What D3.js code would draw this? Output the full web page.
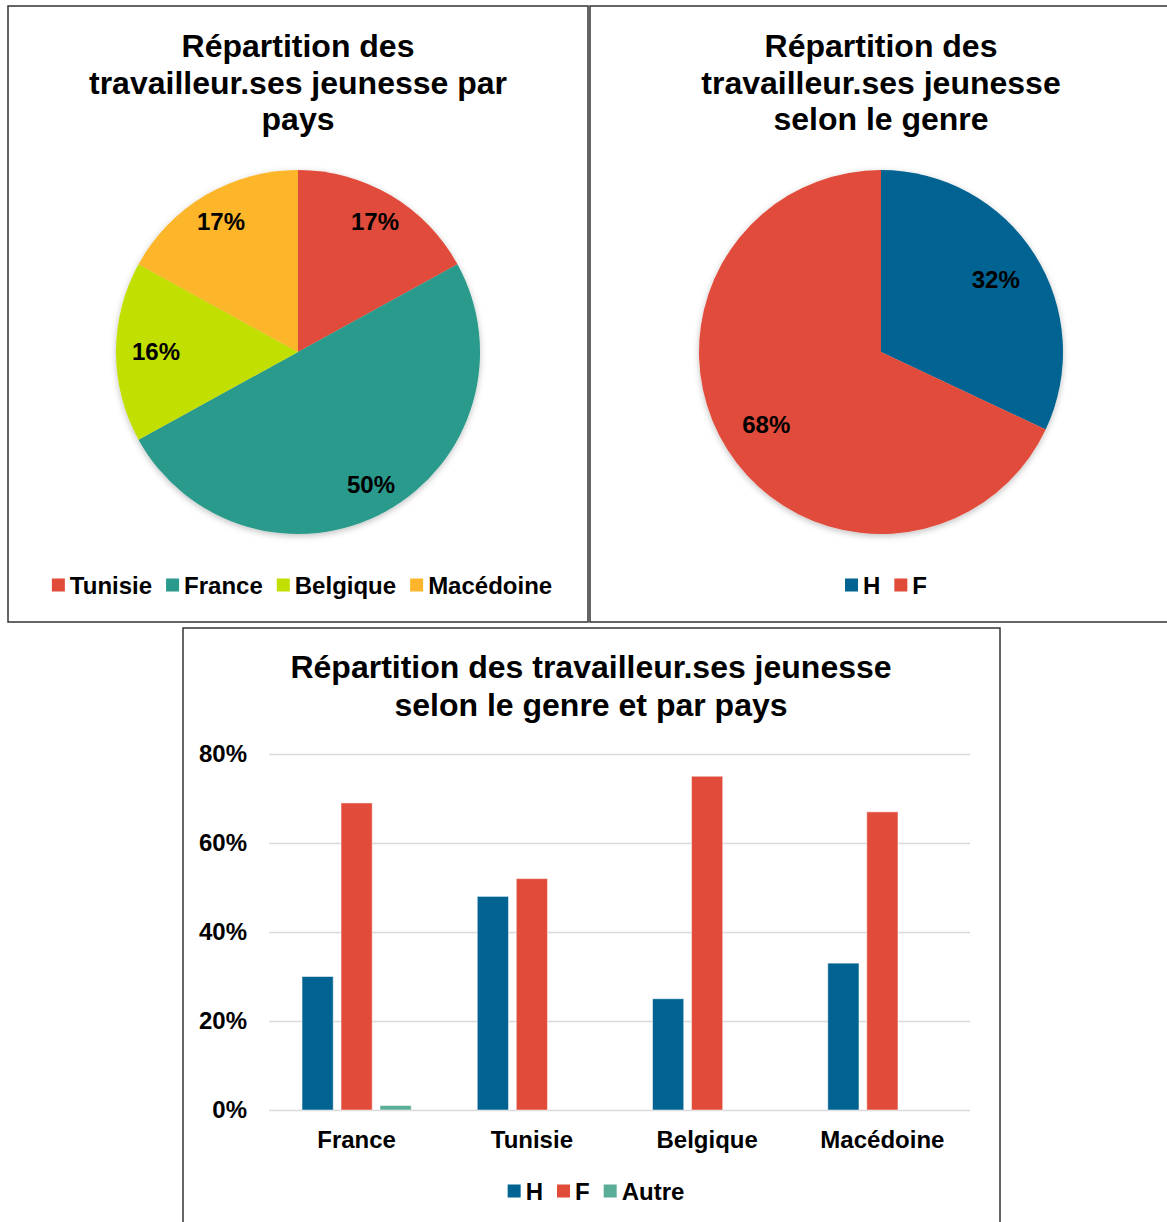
<!DOCTYPE html>
<html>
<head>
<meta charset="utf-8">
<title>Répartition des travailleur.ses jeunesse</title>
<style>
  body { margin: 0; background: #fff; }
  svg text { font-family: "Liberation Sans", Arial, sans-serif; font-weight: bold; fill: #000; }
</style>
</head>
<body>
<svg id="chart" width="1167" height="1222"></svg>
<script src="https://cdn.jsdelivr.net/npm/d3@7"></script>
<script>
// --- data ---
var countries = ["Tunisie", "France", "Belgique", "Macédoine"]
  , countryShares = [17, 50, 16, 17]
  , genders = ["H", "F"]
  , genderShares = [32, 68]
  , barCountries = ["France", "Tunisie", "Belgique", "Macédoine"]
  , barSeries = ["H", "F", "Autre"]
  , valuesH = [30, 48, 25, 33]
  , valuesF = [69, 52, 75, 67]
  , valuesAutre = [1, 0, 0, 0]
  , yTicks = [0, 20, 40, 60, 80]
;

var colors = {
  Tunisie: "#e14c3a", France: "#2a9a8c", Belgique: "#c1df00", "Macédoine": "#fdb62b",
  H: "#016392", F: "#e14c3a", Autre: "#5aad97"
};

var svg = d3.select("#chart");

var defs = svg.append("defs");
defs.append("filter").attr("id", "shadow")
    .attr("x", "-10%").attr("y", "-10%").attr("width", "120%").attr("height", "120%")
  .append("feDropShadow")
    .attr("dx", 0).attr("dy", 2).attr("stdDeviation", 3)
    .attr("flood-color", "#000").attr("flood-opacity", 0.25);

// frames
var frames = [
  {x: 8, y: 6, w: 580, h: 616},
  {x: 590, y: 6, w: 580, h: 616},
  {x: 183, y: 628, w: 817, h: 620}
];
svg.selectAll("rect.frame")
  .data(frames)
  .enter().append("rect")
    .attr("class", "frame")
    .attr("x", function (d) { return d.x; })
    .attr("y", function (d) { return d.y; })
    .attr("width", function (d) { return d.w; })
    .attr("height", function (d) { return d.h; })
    .attr("fill", "none")
    .attr("stroke", "#333")
    .attr("stroke-width", 1.5);

function title(g, lines, cx, y0, step) {
  g.selectAll(null)
    .data(lines)
    .enter().append("text")
      .attr("x", cx)
      .attr("y", function (d, i) { return y0 + i * step; })
      .attr("dy", "0.35em")
      .attr("text-anchor", "middle")
      .attr("font-size", 32)
      .text(function (d) { return d; });
}

function legend(g, items, cx, cy, fontSize) {
  var box = 13, gapText = 5, gapItem = 14;
  var leg = g.append("g");
  var it = leg.selectAll("g")
    .data(items)
    .enter().append("g");
  it.append("rect")
    .attr("width", box).attr("height", box)
    .attr("y", -box / 2)
    .attr("fill", function (d) { return colors[d]; });
  it.append("text")
    .attr("x", box + gapText)
    .attr("dy", "0.36em")
    .attr("font-size", fontSize)
    .text(function (d) { return d; });
  var x = 0;
  it.each(function () {
    var w = box + gapText + d3.select(this).select("text").node().getComputedTextLength();
    d3.select(this).attr("transform", "translate(" + x + ",0)");
    x += w + gapItem;
  });
  var total = x - gapItem;
  leg.attr("transform", "translate(" + (cx - total / 2) + "," + cy + ")");
}

function pieChart(names, values, cx, cy, r, labelR) {
  var g = svg.append("g").attr("transform", "translate(" + cx + "," + cy + ")");
  var pie = d3.pie().sort(null).value(function (d) { return d; });
  var arcs = pie(values);
  var arc = d3.arc().innerRadius(0).outerRadius(r);
  g.append("g").attr("filter", "url(#shadow)")
    .selectAll("path")
    .data(arcs)
    .enter().append("path")
      .attr("d", arc)
      .attr("fill", function (d, i) { return colors[names[i]]; });
  // labels pulled inward a little when the slice points sideways (label box width)
  g.selectAll("text.pct")
    .data(arcs)
    .enter().append("text")
      .attr("class", "pct")
      .attr("transform", function (d) {
        var a = (d.startAngle + d.endAngle) / 2
          , s = Math.sin(a)
          , lr = labelR - 10 * Math.pow(s, 4);
        return "translate(" + (lr * s) + "," + (-lr * Math.cos(a)) + ")";
      })
      .attr("text-anchor", "middle")
      .attr("dy", "0.35em")
      .attr("font-size", 24)
      .text(function (d) { return d.data + "%"; });
}

// --- pie 1: par pays ---
title(svg, ["Répartition des", "travailleur.ses jeunesse par", "pays"], 298, 46, 36.5);
pieChart(countries, countryShares, 298, 352, 182, 152);
legend(svg, countries, 302, 585, 24);

// --- pie 2: selon le genre ---
title(svg, ["Répartition des", "travailleur.ses jeunesse", "selon le genre"], 881, 46, 36.5);
pieChart(genders, genderShares, 881, 352, 182, 141);
legend(svg, genders, 886, 585, 24);

// --- bar chart: genre et pays ---
title(svg, ["Répartition des travailleur.ses jeunesse", "selon le genre et par pays"], 591, 667, 37.5);

var plot = {left: 269, right: 970, top: 754, bottom: 1110};
var x0 = d3.scaleBand().domain(barCountries).range([plot.left, plot.right]);
var x1 = d3.scaleBand().domain(barSeries).range([0, 117]).paddingInner(0.2).paddingOuter(0.1);
var y = d3.scaleLinear().domain([0, 80]).range([plot.bottom, plot.top]);

var yAxis = d3.axisLeft(y).tickValues(yTicks)
  .tickSize(-(plot.right - plot.left))
  .tickPadding(22)
  .tickFormat(function (d) { return d + "%"; });
var ga = svg.append("g").attr("transform", "translate(" + plot.left + ",0)").call(yAxis);
ga.select(".domain").remove();
ga.selectAll(".tick line").attr("stroke", "#d9d9d9").attr("stroke-width", 1.5);
ga.selectAll(".tick text")
  .attr("font-size", 24)
  .attr("font-family", "Liberation Sans, Arial, sans-serif")
  .attr("font-weight", "bold")
  .attr("fill", "#000");

var seriesValues = {H: valuesH, F: valuesF, Autre: valuesAutre};
var groups = svg.append("g").selectAll("g")
  .data(barCountries)
  .enter().append("g")
    .attr("transform", function (d) {
      return "translate(" + (x0(d) + x0.bandwidth() / 2 - 117 / 2) + ",0)";
    });
groups.selectAll("rect")
  .data(function (c, ci) {
    return barSeries.map(function (s) { return {s: s, v: seriesValues[s][ci]}; })
      .filter(function (d) { return d.v > 0; });
  })
  .enter().append("rect")
    .attr("x", function (d) { return x1(d.s); })
    .attr("width", x1.bandwidth())
    .attr("y", function (d) { return y(d.v); })
    .attr("height", function (d) { return y(0) - y(d.v); })
    .attr("fill", function (d) { return colors[d.s]; })
    .attr("stroke", "#fff")
    .attr("stroke-opacity", 0.5)
    .attr("stroke-width", 1);

svg.append("g").selectAll("text")
  .data(barCountries)
  .enter().append("text")
    .attr("x", function (d) { return x0(d) + x0.bandwidth() / 2; })
    .attr("y", 1140)
    .attr("dy", "0.35em")
    .attr("text-anchor", "middle")
    .attr("font-size", 24)
    .text(function (d) { return d; });

legend(svg, barSeries, 596, 1191, 24);
</script>
</body>
</html>
